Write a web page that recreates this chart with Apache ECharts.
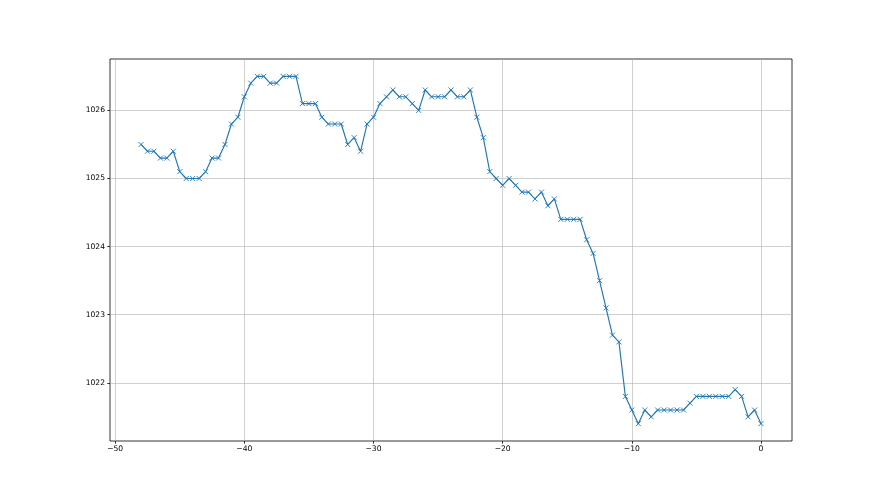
<!DOCTYPE html>
<html>
<head>
<meta charset="utf-8">
<script src="https://cdn.jsdelivr.net/npm/echarts@6/dist/echarts.min.js"></script>
<style>html,body{margin:0;padding:0;background:#fff;}#c{width:880px;height:495px;}</style>
</head>
<body>
<div id="c"></div>
<script>
const xValues = [
  -48, -47.5, -47, -46.5, -46, -45.5, -45, -44.5, -44, -43.5,
  -43, -42.5, -42, -41.5, -41, -40.5, -40, -39.5, -39, -38.5,
  -38, -37.5, -37, -36.5, -36, -35.5, -35, -34.5, -34, -33.5,
  -33, -32.5, -32, -31.5, -31, -30.5, -30, -29.5, -29, -28.5,
  -28, -27.5, -27, -26.5, -26, -25.5, -25, -24.5, -24, -23.5,
  -23, -22.5, -22, -21.5, -21, -20.5, -20, -19.5, -19, -18.5,
  -18, -17.5, -17, -16.5, -16, -15.5, -15, -14.5, -14, -13.5,
  -13, -12.5, -12, -11.5, -11, -10.5, -10, -9.5, -9, -8.5,
  -8, -7.5, -7, -6.5, -6, -5.5, -5, -4.5, -4, -3.5,
  -3, -2.5, -2, -1.5, -1, -0.5, 0
];
const pressure = [
  1025.5, 1025.4, 1025.4, 1025.3, 1025.3, 1025.4, 1025.1, 1025.0, 1025.0, 1025.0,
  1025.1, 1025.3, 1025.3, 1025.5, 1025.8, 1025.9, 1026.2, 1026.4, 1026.5, 1026.5,
  1026.4, 1026.4, 1026.5, 1026.5, 1026.5, 1026.1, 1026.1, 1026.1, 1025.9, 1025.8,
  1025.8, 1025.8, 1025.5, 1025.6, 1025.4, 1025.8, 1025.9, 1026.1, 1026.2, 1026.3,
  1026.2, 1026.2, 1026.1, 1026.0, 1026.3, 1026.2, 1026.2, 1026.2, 1026.3, 1026.2,
  1026.2, 1026.3, 1025.9, 1025.6, 1025.1, 1025.0, 1024.9, 1025.0, 1024.9, 1024.8,
  1024.8, 1024.7, 1024.8, 1024.6, 1024.7, 1024.4, 1024.4, 1024.4, 1024.4, 1024.1,
  1023.9, 1023.5, 1023.1, 1022.7, 1022.6, 1021.8, 1021.6, 1021.4, 1021.6, 1021.5,
  1021.6, 1021.6, 1021.6, 1021.6, 1021.6, 1021.7, 1021.8, 1021.8, 1021.8, 1021.8,
  1021.8, 1021.8, 1021.9, 1021.8, 1021.5, 1021.6, 1021.4
];
const xTicks = [-50, -40, -30, -20, -10, 0];
const yTicks = [1022, 1023, 1024, 1025, 1026];

const chart = echarts.init(document.getElementById('c'), null, {renderer: 'canvas'});
const fmt = v => String(v).replace('-', '\u2212');
const labelStyle = {color: '#000', fontFamily: 'DejaVu Sans', fontSize: 7.6};
chart.setOption({
  animation: false,
  backgroundColor: '#fff',
  grid: {left: 110, right: 88, top: 59, bottom: 54, show: true, borderColor: '#000', borderWidth: 0.8, backgroundColor: 'transparent'},
  xAxis: {
    type: 'value', min: -50.4, max: 2.4,
    axisLine: {show: false, onZero: false},
    axisTick: {show: true, inside: false, length: 2.7, lineStyle: {color: '#000', width: 0.8}, customValues: xTicks},
    axisLabel: {show: true, margin: 4, formatter: fmt, customValues: xTicks, ...labelStyle},
    splitLine: {show: true, lineStyle: {color: '#b0b0b0', width: 0.6}}
  },
  yAxis: {
    type: 'value', min: 1021.145, max: 1026.755,
    axisLine: {show: false, onZero: false},
    axisTick: {show: true, inside: false, length: 2.7, lineStyle: {color: '#000', width: 0.8}, customValues: yTicks},
    axisLabel: {show: true, margin: 5, formatter: fmt, customValues: yTicks, ...labelStyle},
    splitLine: {show: true, lineStyle: {color: '#b0b0b0', width: 0.6}}
  },
  series: [{
    type: 'line',
    data: xValues.map((x, i) => [x, pressure[i]]),
    showSymbol: true,
    showAllSymbol: true,
    symbol: 'path://M0,0L10,10M10,0L0,10',
    symbolSize: 5,
    lineStyle: {color: '#1f77b4', width: 1.15},
    itemStyle: {color: '#1f77b4', borderColor: '#1f77b4', borderWidth: 0.9},
    emphasis: {disabled: true}
  }]
});
</script>
</body>
</html>
